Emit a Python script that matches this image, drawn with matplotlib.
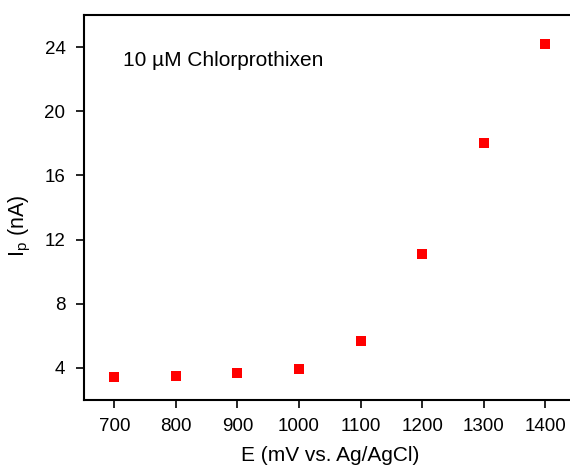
import matplotlib
matplotlib.use("Agg")
import matplotlib.pyplot as plt

potential = [700, 800, 900, 1000, 1100, 1200, 1300, 1400]
current = [3.41, 3.48, 3.69, 3.96, 5.70, 11.09, 18.0, 24.17]
xticks = [700, 800, 900, 1000, 1100, 1200, 1300, 1400]
yticks = [4, 8, 12, 16, 20, 24]

plt.rcParams['font.family'] = ['Liberation Sans', 'DejaVu Sans']
plt.rcParams['mathtext.fontset'] = 'custom'
plt.rcParams['mathtext.rm'] = 'Liberation Sans'

fig = plt.figure(figsize=(5.7, 4.68), dpi=100)
ax = fig.add_axes([83.5/570, 1 - 400/468, (576 - 83.5)/570, (400 - 15)/468])
ax.plot(potential, current, linestyle='none', marker='s', markersize=7.8,
        color='#ff0000', markeredgewidth=0)
ax.set_xlim(650, 1450)
ax.set_ylim(2, 26)
ax.set_xticks(xticks)
ax.set_yticks(yticks)
ax.tick_params(direction='out', length=6, width=1.2, labelsize=13.5, pad=7,
               top=False, right=False)
for s in ax.spines.values():
    s.set_linewidth(1.5)
ax.spines['right'].set_visible(False)
ax.set_xlabel('E (mV vs. Ag/AgCl)', fontsize=15, labelpad=8)
ax.set_ylabel(r'I$_\mathrm{p}$ (nA)', fontsize=15.5)
ax.yaxis.set_label_coords(-0.102, 0.452)
ax.text(0.0812, 0.883, '10 µM Chlorprothixen',
        transform=ax.transAxes, fontsize=15, va='center', ha='left')
fig.savefig('out.png', dpi=100)
